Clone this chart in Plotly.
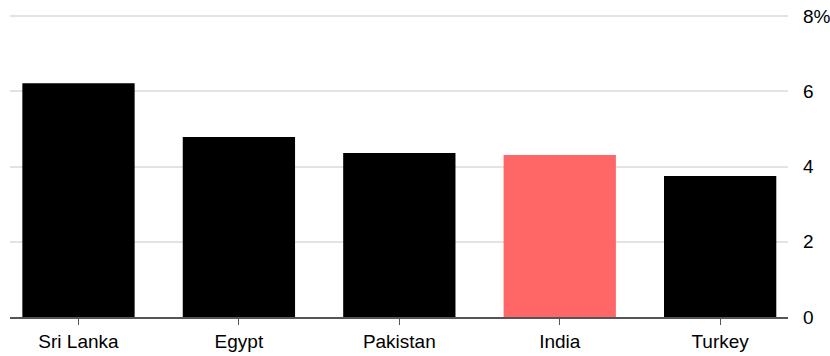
import plotly.graph_objects as go

countries = ["Sri Lanka", "Egypt", "Pakistan", "India", "Turkey"]
values = [6.22, 4.79, 4.36, 4.31, 3.75]
highlight = "India"
y_tickvals = [0, 2, 4, 6, 8]
y_ticktext = ["0", "2", "4", "6", "8%"]

colors = ["#ff6666" if c == highlight else "#000000" for c in countries]

fig = go.Figure(go.Bar(
    x=list(range(len(countries))), y=values,
    marker=dict(color=colors, line=dict(width=0)),
    width=0.70,
))

fig.update_layout(
    width=830, height=356,
    margin=dict(l=10, r=42, t=14, b=39, autoexpand=False),
    paper_bgcolor="white", plot_bgcolor="white",
    showlegend=False,
    font=dict(family="Liberation Sans, Arial, sans-serif", size=19, color="#000000"),
    xaxis=dict(
        range=[-0.427, 4.423],
        tickvals=list(range(len(countries))), ticktext=countries,
        ticks="outside", ticklen=6, tickcolor="#555555", tickwidth=1,
        showgrid=False, zeroline=False,
        showline=True, linecolor="#555555", linewidth=1.5,
        tickfont=dict(size=19), automargin=False,
    ),
    yaxis=dict(
        range=[0, 8.06], side="right",
        tickvals=y_tickvals, ticktext=y_ticktext,
        showgrid=True, gridcolor="#e3e3e3", gridwidth=2,
        zeroline=False, showline=False, ticks="",
        ticklabelstandoff=14, automargin=False,
        tickfont=dict(size=19),
    ),
)

fig.write_html("out.html")
